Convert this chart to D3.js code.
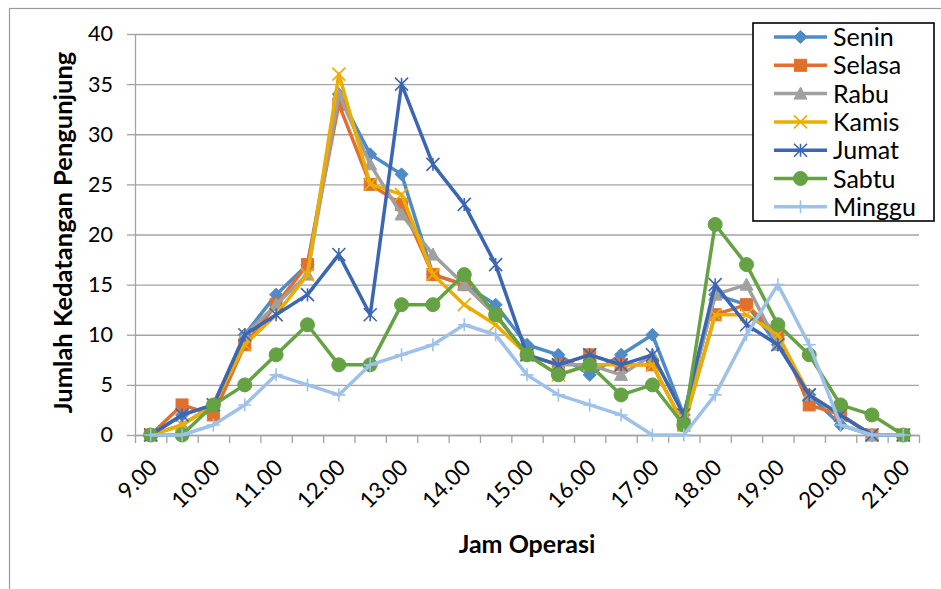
<!DOCTYPE html>
<html>
<head>
<meta charset="utf-8">
<script src="https://cdn.jsdelivr.net/npm/d3@7"></script>
<style>
  html, body { margin: 0; padding: 0; background: #fff; }
  svg { display: block; font-family: Lato, "Open Sans", sans-serif; }
</style>
</head>
<body>
<svg id="chart" width="941" height="589"></svg>
<script>
// ---- data ----
const categories = ["9.00","9.30","10.00","10.30","11.00","11.30","12.00","12.30","13.00","13.30","14.00","14.30","15.00","15.30","16.00","16.30","17.00","17.30","18.00","18.30","19.00","19.30","20.00","20.30","21.00"];
const tickLabels = ["9.00","10.00","11.00","12.00","13.00","14.00","15.00","16.00","17.00","18.00","19.00","20.00","21.00"];
const yTicks = [0,5,10,15,20,25,30,35,40];
const seriesNames = ["Senin","Selasa","Rabu","Kamis","Jumat","Sabtu","Minggu"];
const senin  = [0,2,3,10,14,17,34,28,26,16,15,13,9,8,6,8,10,2,14,13,9,4,1,0,0];
const selasa = [0,3,2,9,13,17,33,25,23,16,15,12,8,7,8,7,7,1,12,13,10,3,2,0,0];
const rabu   = [0,1,3,10,13,16,34,27,22,18,15,12,8,7,7,6,8,2,14,15,9,4,2,0,0];
const kamis  = [0,1,3,9,12,16,36,25,24,16,13,11,8,6,7,7,7,1,12,12,10,4,2,0,0];
const jumat  = [0,2,3,10,12,14,18,12,35,27,23,17,8,7,8,7,8,2,15,11,9,4,2,0,0];
const sabtu  = [0,0,3,5,8,11,7,7,13,13,16,12,8,6,7,4,5,1,21,17,11,8,3,2,0];
const minggu = [0,0,1,3,6,5,4,7,8,9,11,10,6,4,3,2,0,0,4,10,15,9,1,0,0];
const seriesValues = [senin, selasa, rabu, kamis, jumat, sabtu, minggu];
const seriesColors = ["#4E8BC7","#E0702F","#A0A0A0","#EDAD00","#3C66B4","#64A243","#9DC1E8"];
const seriesMarkers = ["diamond","square","triangle","x","star","circle","plus"];
const xTitle = "Jam Operasi";
const yTitle = "Jumlah Kedatangan Pengunjung";

// ---- layout ----
const svg = d3.select("#chart");
const pLeft = 135, pRight = 919, pTop = 34, pBottom = 435;

// outer frame
svg.append("rect").attr("x", 9.5).attr("y", 8.5).attr("width", 960).attr("height", 600)
  .attr("fill", "none").attr("stroke", "#9a9a9a").attr("stroke-width", 1.2);

const x = d3.scaleBand().domain(categories).range([pLeft, pRight]).padding(0);
const xb = d3.scaleLinear().domain([0, categories.length]).range([pLeft, pRight]);
const y = d3.scaleLinear().domain([0, 40]).range([pBottom, pTop]);
const cx = c => x(c) + x.bandwidth() / 2;

// gridlines
const grid = svg.append("g").attr("transform", `translate(${pLeft},0)`)
  .call(d3.axisLeft(y).tickValues(yTicks).tickSizeInner(-(pRight - pLeft)).tickSizeOuter(0).tickFormat(""));
grid.select(".domain").remove();
grid.selectAll(".tick line").attr("stroke", "#A3A3A3").attr("stroke-width", 1.3);

// y axis with small outward ticks and labels
const yAxis = svg.append("g").attr("transform", `translate(${pLeft},0)`)
  .call(d3.axisLeft(y).tickValues(yTicks).tickSize(8).tickSizeOuter(0).tickPadding(14));
yAxis.select(".domain").attr("stroke", "#A3A3A3").attr("stroke-width", 1.3);
yAxis.selectAll(".tick line").attr("stroke", "#A3A3A3").attr("stroke-width", 1.3);
yAxis.selectAll(".tick text").attr("font-family", "Lato").attr("font-size", 21.5).attr("fill", "#000");

// x axis: tick marks at category boundaries
const xAxis = svg.append("g").attr("transform", `translate(0,${pBottom})`)
  .call(d3.axisBottom(xb).tickValues(d3.range(0, categories.length + 1)).tickSize(8).tickSizeOuter(0).tickFormat(""));
xAxis.select(".domain").attr("stroke", "#A3A3A3").attr("stroke-width", 1.3);
xAxis.selectAll(".tick line").attr("stroke", "#A3A3A3").attr("stroke-width", 1.3);

// x tick labels (every whole hour), rotated -45
svg.append("g").selectAll("text").data(tickLabels).join("text")
  .attr("transform", d => `translate(${cx(d) + 8},469) rotate(-45)`)
  .attr("text-anchor", "end")
  .attr("font-family", "Lato").attr("font-size", 22.5).attr("fill", "#000")
  .text(d => d);

// axis titles
svg.append("text").attr("x", (pLeft + pRight) / 2).attr("y", 553)
  .attr("text-anchor", "middle").attr("font-family", "Lato").attr("font-weight", "bold")
  .attr("font-size", 25).text(xTitle);
svg.append("text").attr("transform", `translate(72,${(pTop + pBottom) / 2 - 2}) rotate(-90)`)
  .attr("text-anchor", "middle").attr("font-family", "Lato").attr("font-weight", "bold")
  .attr("font-size", 25.5).text(yTitle);

// markers
function drawMarker(g, type, color, px, py) {
  const s = 6.5;
  if (type === "diamond") {
    g.append("path").attr("d", `M${px},${py - s}L${px + s},${py}L${px},${py + s}L${px - s},${py}Z`)
      .attr("fill", color).attr("stroke", color).attr("stroke-width", 1);
  } else if (type === "square") {
    g.append("rect").attr("x", px - 6).attr("y", py - 6).attr("width", 12).attr("height", 12)
      .attr("fill", color).attr("stroke", color).attr("stroke-width", 1);
  } else if (type === "triangle") {
    g.append("path").attr("d", `M${px},${py - 6.5}L${px + 6.5},${py + 5.5}L${px - 6.5},${py + 5.5}Z`)
      .attr("fill", color).attr("stroke", color).attr("stroke-width", 1);
  } else if (type === "circle") {
    g.append("circle").attr("cx", px).attr("cy", py).attr("r", 7)
      .attr("fill", color).attr("stroke", color).attr("stroke-width", 1);
  } else if (type === "x") {
    g.append("path").attr("d", `M${px - s},${py - s}L${px + s},${py + s}M${px - s},${py + s}L${px + s},${py - s}`)
      .attr("stroke", color).attr("stroke-width", 1.6).attr("fill", "none");
  } else if (type === "star") {
    g.append("path").attr("d", `M${px - s},${py - s}L${px + s},${py + s}M${px - s},${py + s}L${px + s},${py - s}M${px},${py - s}L${px},${py + s}`)
      .attr("stroke", color).attr("stroke-width", 1.6).attr("fill", "none");
  } else if (type === "plus") {
    g.append("path").attr("d", `M${px - s},${py}L${px + s},${py}M${px},${py - s}L${px},${py + s}`)
      .attr("stroke", color).attr("stroke-width", 1.6).attr("fill", "none");
  }
}

// series
const line = d3.line().x((d, i) => cx(categories[i])).y(d => y(d));
seriesValues.forEach((vals, si) => {
  const g = svg.append("g");
  g.append("path").datum(vals).attr("d", line).attr("fill", "none")
    .attr("stroke", seriesColors[si]).attr("stroke-width", 3.5)
    .attr("stroke-linejoin", "round").attr("stroke-linecap", "round");
  vals.forEach((v, i) => drawMarker(g, seriesMarkers[si], seriesColors[si], cx(categories[i]), y(v)));
});

// legend
const lg = svg.append("g");
lg.append("rect").attr("x", 753).attr("y", 23).attr("width", 181).attr("height", 198)
  .attr("fill", "#fff").attr("stroke", "#000").attr("stroke-width", 1.6);
seriesNames.forEach((name, i) => {
  const ry = 37 + i * 28.3;
  lg.append("line").attr("x1", 774).attr("x2", 827).attr("y1", ry).attr("y2", ry)
    .attr("stroke", seriesColors[i]).attr("stroke-width", 3.5);
  drawMarker(lg, seriesMarkers[i], seriesColors[i], 800.5, ry);
  lg.append("text").attr("x", 833).attr("y", ry + 9).attr("font-family", "Lato")
    .attr("font-size", 25).attr("fill", "#000").text(name);
});
</script>
</body>
</html>
